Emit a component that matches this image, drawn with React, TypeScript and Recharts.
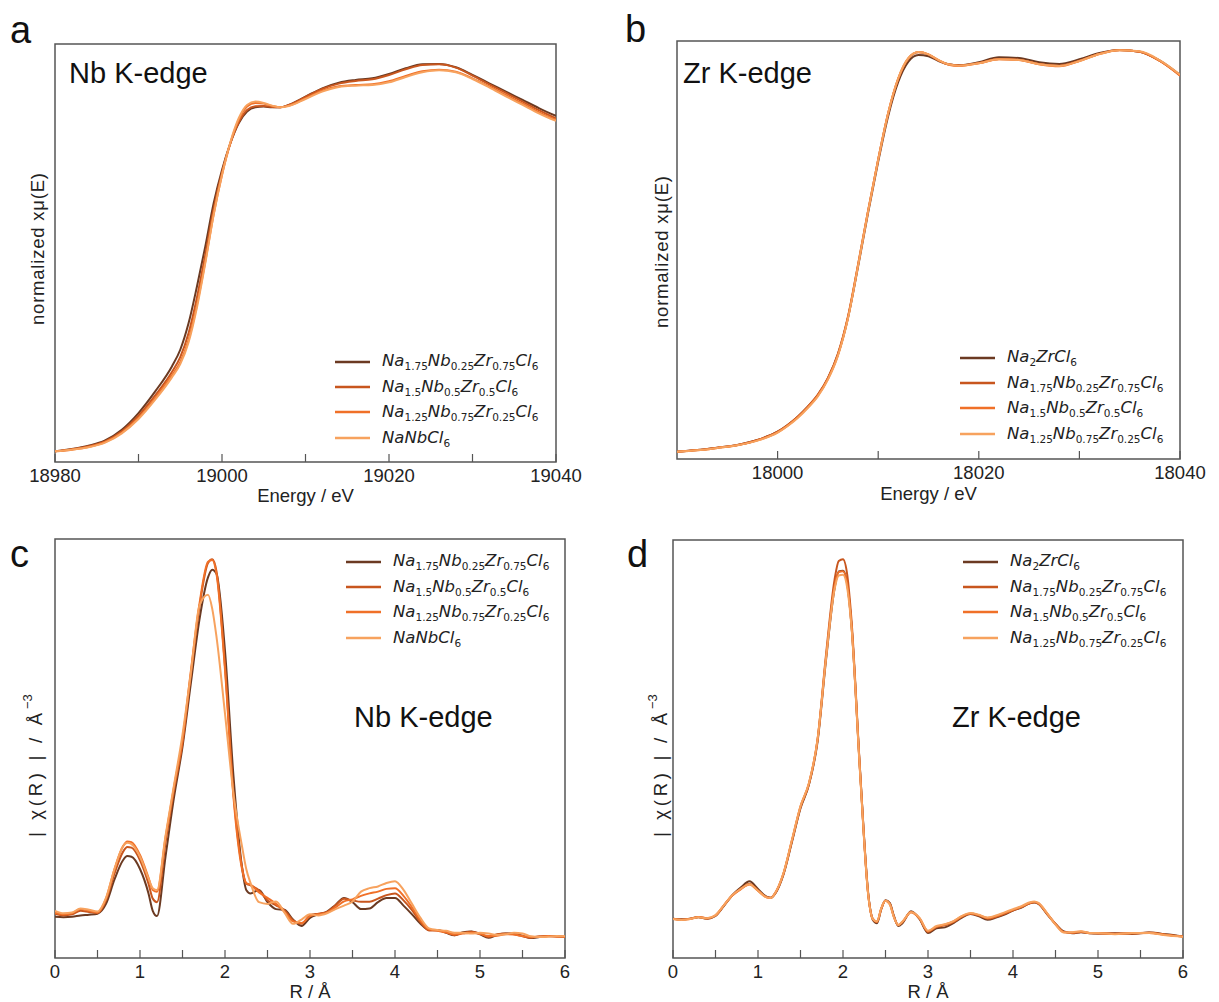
import { LineChart, Line, XAxis, YAxis, ReferenceArea, Legend } from "recharts";

const SERIES_COLORS = ["#6b3a22", "#c8561e", "#f07028", "#f7a25e"];
const TEXT = "#222";
const FRAME = "#555";
const SANS = "'Liberation Sans', Arial, Helvetica, sans-serif";

// ---- panel a: Nb K-edge XANES ----
const nbEnergy = [18980, 18982, 18984, 18986, 18988, 18990, 18992, 18994, 18995, 18996, 18997, 18998, 18999, 19000, 19001, 19002, 19003, 19004, 19005, 19006, 19007, 19008, 19010, 19012, 19014, 19016, 19018, 19020, 19022, 19024, 19026, 19028, 19030, 19032, 19034, 19036, 19038, 19040];
const nbXanesNa175 = [0.000, 0.007, 0.017, 0.033, 0.065, 0.115, 0.180, 0.255, 0.305, 0.385, 0.495, 0.615, 0.745, 0.845, 0.925, 0.985, 1.020, 1.033, 1.035, 1.033, 1.033, 1.040, 1.065, 1.090, 1.107, 1.115, 1.120, 1.133, 1.150, 1.162, 1.163, 1.153, 1.130, 1.105, 1.080, 1.055, 1.030, 1.007];
const nbXanesNa15 = [0.000, 0.006, 0.015, 0.030, 0.060, 0.107, 0.168, 0.238, 0.283, 0.355, 0.462, 0.590, 0.728, 0.838, 0.925, 0.988, 1.025, 1.036, 1.037, 1.034, 1.033, 1.040, 1.064, 1.088, 1.104, 1.112, 1.117, 1.130, 1.147, 1.160, 1.162, 1.152, 1.128, 1.102, 1.076, 1.050, 1.024, 1.000];
const nbXanesNa125 = [0.000, 0.005, 0.013, 0.028, 0.056, 0.100, 0.160, 0.228, 0.268, 0.335, 0.440, 0.570, 0.712, 0.830, 0.925, 0.995, 1.035, 1.046, 1.044, 1.037, 1.033, 1.038, 1.060, 1.083, 1.096, 1.100, 1.102, 1.111, 1.127, 1.141, 1.146, 1.140, 1.120, 1.096, 1.070, 1.044, 1.018, 0.995];
const nbXanesNaNb = [0.000, 0.005, 0.012, 0.026, 0.054, 0.097, 0.155, 0.222, 0.262, 0.328, 0.432, 0.565, 0.710, 0.830, 0.928, 1.000, 1.040, 1.050, 1.046, 1.038, 1.033, 1.037, 1.058, 1.080, 1.094, 1.098, 1.100, 1.108, 1.124, 1.138, 1.144, 1.138, 1.118, 1.093, 1.066, 1.040, 1.014, 0.992];

// ---- panel b: Zr K-edge XANES ----
const zrEnergy = [17990, 17992, 17994, 17996, 17998, 18000, 18001, 18002, 18003, 18004, 18005, 18006, 18007, 18008, 18009, 18010, 18011, 18012, 18013, 18014, 18015, 18016, 18017, 18018, 18020, 18022, 18024, 18026, 18028, 18030, 18032, 18034, 18036, 18038, 18040];
const zrXanesNa2 = [0.000, 0.005, 0.012, 0.020, 0.035, 0.060, 0.080, 0.105, 0.135, 0.170, 0.220, 0.292, 0.402, 0.555, 0.717, 0.870, 1.008, 1.110, 1.170, 1.190, 1.186, 1.172, 1.162, 1.159, 1.168, 1.183, 1.181, 1.168, 1.163, 1.177, 1.196, 1.205, 1.200, 1.173, 1.130];
const zrXanesNa175 = [0.000, 0.005, 0.012, 0.020, 0.035, 0.060, 0.080, 0.105, 0.135, 0.171, 0.221, 0.294, 0.406, 0.562, 0.724, 0.877, 1.016, 1.119, 1.179, 1.198, 1.191, 1.174, 1.162, 1.159, 1.166, 1.178, 1.176, 1.163, 1.158, 1.173, 1.194, 1.205, 1.200, 1.172, 1.129];
const zrXanesNa15 = [0.000, 0.004, 0.011, 0.019, 0.034, 0.058, 0.078, 0.103, 0.133, 0.168, 0.218, 0.290, 0.403, 0.560, 0.723, 0.877, 1.017, 1.120, 1.180, 1.199, 1.192, 1.174, 1.161, 1.157, 1.165, 1.177, 1.175, 1.162, 1.156, 1.172, 1.193, 1.204, 1.200, 1.172, 1.128];
const zrXanesNa125 = [0.000, 0.004, 0.011, 0.019, 0.033, 0.057, 0.077, 0.101, 0.131, 0.166, 0.216, 0.288, 0.400, 0.558, 0.722, 0.876, 1.017, 1.121, 1.181, 1.199, 1.192, 1.175, 1.162, 1.158, 1.165, 1.177, 1.175, 1.162, 1.157, 1.172, 1.193, 1.204, 1.201, 1.174, 1.131];

// ---- panel c: Nb K-edge |chi(R)| ----
const nbR = [0, 0.1, 0.2, 0.3, 0.4, 0.5, 0.6, 0.7, 0.8, 0.85, 0.9, 1.0, 1.1, 1.15, 1.2, 1.3, 1.4, 1.5, 1.6, 1.7, 1.8, 1.85, 1.9, 2.0, 2.1, 2.2, 2.25, 2.3, 2.4, 2.5, 2.6, 2.7, 2.8, 2.9, 3.0, 3.1, 3.2, 3.3, 3.4, 3.5, 3.6, 3.7, 3.8, 3.9, 4.0, 4.1, 4.2, 4.3, 4.4, 4.5, 4.6, 4.7, 4.8, 4.9, 5.0, 5.1, 5.2, 5.3, 5.4, 5.5, 5.6, 5.7, 5.8, 5.9, 6.0];
const nbChiNa175 = [1.18, 1.17, 1.18, 1.22, 1.24, 1.27, 1.55, 2.25, 2.80, 2.92, 2.90, 2.55, 1.85, 1.35, 1.20, 2.90, 4.60, 6.05, 7.90, 9.70, 10.90, 11.12, 11.00, 8.80, 5.20, 2.60, 1.95, 1.85, 1.95, 1.60, 1.40, 1.38, 1.10, 0.92, 1.15, 1.25, 1.33, 1.52, 1.72, 1.60, 1.40, 1.42, 1.60, 1.72, 1.72, 1.50, 1.25, 0.98, 0.80, 0.80, 0.72, 0.65, 0.74, 0.76, 0.68, 0.58, 0.66, 0.70, 0.70, 0.64, 0.57, 0.60, 0.63, 0.62, 0.60];
const nbChiNa15 = [1.27, 1.22, 1.25, 1.35, 1.32, 1.29, 1.65, 2.42, 3.04, 3.18, 3.16, 2.80, 2.13, 1.70, 1.60, 3.30, 4.81, 6.15, 8.15, 10.07, 11.31, 11.42, 11.07, 8.35, 4.71, 2.61, 2.13, 2.08, 1.94, 1.65, 1.51, 1.37, 1.08, 0.98, 1.22, 1.27, 1.32, 1.51, 1.70, 1.65, 1.61, 1.61, 1.70, 1.80, 1.85, 1.65, 1.37, 1.03, 0.79, 0.79, 0.75, 0.65, 0.72, 0.75, 0.70, 0.60, 0.68, 0.70, 0.68, 0.62, 0.58, 0.62, 0.62, 0.62, 0.60];
const nbChiNa125 = [1.30, 1.25, 1.28, 1.40, 1.35, 1.30, 1.70, 2.55, 3.20, 3.34, 3.32, 2.95, 2.30, 1.95, 1.90, 3.45, 4.90, 6.25, 8.25, 10.15, 11.35, 11.40, 11.00, 8.25, 4.60, 2.55, 2.15, 2.10, 1.88, 1.72, 1.55, 1.32, 1.05, 1.00, 1.20, 1.25, 1.30, 1.45, 1.62, 1.68, 1.78, 1.85, 1.90, 1.98, 2.00, 1.78, 1.45, 1.08, 0.82, 0.78, 0.73, 0.68, 0.70, 0.72, 0.69, 0.63, 0.64, 0.68, 0.67, 0.63, 0.60, 0.61, 0.63, 0.61, 0.61];
const nbChiNaNb = [1.35, 1.28, 1.30, 1.42, 1.38, 1.33, 1.72, 2.55, 3.20, 3.30, 3.26, 2.90, 2.28, 2.00, 1.95, 3.50, 4.95, 6.40, 8.20, 10.10, 10.40, 10.00, 9.20, 7.00, 4.70, 3.20, 2.55, 2.15, 1.60, 1.55, 1.62, 1.30, 0.98, 1.10, 1.25, 1.22, 1.28, 1.40, 1.50, 1.62, 1.90, 2.00, 2.05, 2.15, 2.20, 1.95, 1.55, 1.15, 0.85, 0.80, 0.78, 0.72, 0.72, 0.70, 0.72, 0.70, 0.66, 0.68, 0.72, 0.70, 0.62, 0.60, 0.61, 0.63, 0.62];

// ---- panel d: Zr K-edge |chi(R)| ----
const zrR = [0, 0.1, 0.2, 0.3, 0.4, 0.5, 0.6, 0.7, 0.8, 0.9, 1.0, 1.1, 1.15, 1.2, 1.3, 1.4, 1.5, 1.6, 1.7, 1.8, 1.9, 1.95, 2.0, 2.05, 2.1, 2.2, 2.3, 2.35, 2.4, 2.45, 2.5, 2.55, 2.6, 2.65, 2.7, 2.8, 2.9, 3.0, 3.1, 3.2, 3.3, 3.4, 3.5, 3.6, 3.7, 3.8, 3.9, 4.0, 4.1, 4.2, 4.25, 4.3, 4.4, 4.5, 4.6, 4.7, 4.8, 4.9, 5.0, 5.2, 5.4, 5.6, 5.8, 6.0];
const zrChiNa2 = [1.13, 1.11, 1.13, 1.17, 1.13, 1.21, 1.50, 1.81, 2.03, 2.20, 1.98, 1.76, 1.73, 1.84, 2.40, 3.34, 4.30, 4.98, 6.20, 8.55, 10.60, 11.10, 11.12, 10.75, 9.55, 5.40, 1.78, 1.10, 1.00, 1.40, 1.66, 1.58, 1.20, 0.92, 1.00, 1.34, 1.12, 0.72, 0.85, 0.88, 1.00, 1.16, 1.26, 1.20, 1.10, 1.16, 1.25, 1.36, 1.45, 1.57, 1.59, 1.55, 1.26, 0.98, 0.76, 0.71, 0.74, 0.71, 0.70, 0.71, 0.69, 0.73, 0.68, 0.62];
const zrChiNa175 = [1.13, 1.10, 1.13, 1.18, 1.13, 1.22, 1.51, 1.80, 1.99, 2.13, 1.94, 1.75, 1.73, 1.85, 2.42, 3.37, 4.33, 5.00, 6.26, 8.70, 10.85, 11.40, 11.45, 11.00, 9.70, 5.42, 1.75, 1.13, 1.03, 1.41, 1.65, 1.56, 1.18, 0.94, 1.03, 1.32, 1.13, 0.75, 0.89, 0.94, 1.03, 1.18, 1.27, 1.22, 1.13, 1.18, 1.27, 1.37, 1.46, 1.58, 1.60, 1.56, 1.27, 0.98, 0.75, 0.72, 0.75, 0.72, 0.70, 0.70, 0.70, 0.73, 0.67, 0.62];
const zrChiNa15 = [1.12, 1.10, 1.12, 1.18, 1.14, 1.22, 1.52, 1.80, 1.98, 2.11, 1.93, 1.74, 1.72, 1.86, 2.43, 3.38, 4.35, 5.02, 6.25, 8.62, 10.65, 11.08, 11.10, 10.72, 9.55, 5.36, 1.74, 1.12, 1.04, 1.42, 1.64, 1.55, 1.17, 0.95, 1.04, 1.31, 1.14, 0.77, 0.90, 0.96, 1.05, 1.20, 1.28, 1.23, 1.15, 1.20, 1.29, 1.38, 1.47, 1.58, 1.61, 1.57, 1.28, 0.97, 0.74, 0.73, 0.76, 0.71, 0.71, 0.69, 0.71, 0.72, 0.66, 0.62];
const zrChiNa125 = [1.12, 1.09, 1.12, 1.17, 1.14, 1.23, 1.52, 1.81, 1.99, 2.12, 1.93, 1.74, 1.72, 1.86, 2.44, 3.40, 4.36, 5.03, 6.27, 8.60, 10.58, 10.98, 11.00, 10.62, 9.50, 5.34, 1.73, 1.12, 1.05, 1.43, 1.64, 1.54, 1.16, 0.95, 1.05, 1.31, 1.15, 0.78, 0.92, 0.97, 1.06, 1.21, 1.29, 1.24, 1.16, 1.22, 1.31, 1.40, 1.49, 1.60, 1.62, 1.58, 1.29, 0.96, 0.73, 0.74, 0.77, 0.72, 0.72, 0.68, 0.72, 0.72, 0.65, 0.61];

const nbNames = ["Na1.75Nb0.25Zr0.75Cl6", "Na1.5Nb0.5Zr0.5Cl6", "Na1.25Nb0.75Zr0.25Cl6", "NaNbCl6"];
const zrNames = ["Na2ZrCl6", "Na1.75Nb0.25Zr0.75Cl6", "Na1.5Nb0.5Zr0.5Cl6", "Na1.25Nb0.75Zr0.25Cl6"];

const nbEnergyTicks = [18980, 18990, 19000, 19010, 19020, 19030, 19040];
const zrEnergyTicks = [18000, 18010, 18020, 18030, 18040];
const rTicks = [0, 0.5, 1, 1.5, 2, 2.5, 3, 3.5, 4, 4.5, 5, 5.5, 6];

const every20 = (v: number) => (v % 20 === 0 ? String(v) : "");
const integersOnly = (v: number) => (Number.isInteger(v) ? String(v) : "");

function Formula({ text }: { text: string }) {
  const parts = text.match(/[A-Z][a-z]*|[\d.]+/g) || [];
  return (
    <span style={{ fontFamily: "'DejaVu Sans', sans-serif", fontSize: 16.5, lineHeight: 1, color: TEXT, whiteSpace: "nowrap" }}>
      {parts.map((p, i) =>
        /^[\d.]+$/.test(p) ? (
          <span key={i} style={{ fontSize: 10.5, position: "relative", top: 4 }}>{p}</span>
        ) : (
          <span key={i} style={{ fontStyle: "italic" }}>{p}</span>
        )
      )}
    </span>
  );
}

function LegendBox({ names }: { names: string[] }) {
  return (
    <div>
      {names.map((n, i) => (
        <div key={n} style={{ display: "flex", alignItems: "center", height: 25.4 }}>
          <svg width={35} height={6} style={{ marginRight: 12, flex: "none" }}>
            <line x1={0} y1={3} x2={35} y2={3} stroke={SERIES_COLORS[i]} strokeWidth={2.5} />
          </svg>
          <Formula text={n} />
        </div>
      ))}
    </div>
  );
}

function YTitle({ kind, x, y }: { kind: "mu" | "chi"; x: number; y: number }) {
  if (kind === "mu") {
    return (
      <text x={x} y={y} transform={`rotate(-90 ${x} ${y})`} textAnchor="middle" dominantBaseline="central" fontSize={18.5} fill={TEXT} textLength={152} lengthAdjust="spacing">
        normalized xμ(E)
      </text>
    );
  }
  return (
    <g transform={`translate(${x} ${y}) rotate(-90)`} fill={TEXT}>
      <text x={0} y={0} dominantBaseline="central" fontSize={18.5} textLength={124} lengthAdjust="spacing">
        | χ(R) | / Å
      </text>
      <text x={128} y={-8} dominantBaseline="central" fontSize={13}>−3</text>
    </g>
  );
}

type PanelProps = {
  left: number;
  top: number;
  width: number;
  height: number;
  margin: { top: number; right: number; bottom: number; left: number };
  yAxisWidth: number;
  xs: number[];
  series: number[][];
  names: string[];
  xDomain: [number, number];
  yDomain: [number, number];
  ticks: number[];
  tickFormat: (v: number) => string;
  xTitle: string;
  xTitleOffset: number;
  yTitle: { kind: "mu" | "chi"; x: number; y: number };
  legendPos: { left: number; top: number };
};

function Panel(p: PanelProps) {
  const rows = p.xs.map((x, i) => {
    const r: Record<string, number> = { x };
    p.series.forEach((s, j) => {
      r[`s${j}`] = s[i];
    });
    return r;
  });
  return (
    <div style={{ position: "absolute", left: p.left, top: p.top, fontFamily: SANS }}>
      <LineChart width={p.width} height={p.height} data={rows} margin={p.margin}>
        <XAxis
          dataKey="x"
          type="number"
          domain={p.xDomain}
          ticks={p.ticks}
          interval={0}
          allowDataOverflow
          tickFormatter={p.tickFormat}
          axisLine={false}
          tickSize={-8}
          tickMargin={15}
          tickLine={{ stroke: FRAME, strokeWidth: 1.2 }}
          tick={{ fill: TEXT, fontSize: 18.5 }}
          height={44}
          label={{ value: p.xTitle, position: "insideBottom", offset: p.xTitleOffset, fill: TEXT, fontSize: 18.5 }}
        />
        <YAxis
          type="number"
          domain={p.yDomain}
          allowDataOverflow
          width={p.yAxisWidth}
          tick={false}
          tickLine={false}
          axisLine={false}
          label={() => <YTitle kind={p.yTitle.kind} x={p.yTitle.x} y={p.yTitle.y} />}
        />
        <ReferenceArea
          x1={p.xDomain[0]}
          x2={p.xDomain[1]}
          y1={p.yDomain[0]}
          y2={p.yDomain[1]}
          fill="none"
          stroke={FRAME}
          strokeWidth={1.5}
          ifOverflow="visible"
        />
        {p.series.map((_, j) => (
          <Line
            key={j}
            dataKey={`s${j}`}
            type="monotone"
            stroke={SERIES_COLORS[j]}
            strokeWidth={2}
            dot={false}
            isAnimationActive={false}
          />
        ))}
        <Legend
          layout="vertical"
          align="center"
          verticalAlign="middle"
          wrapperStyle={{ left: p.legendPos.left, top: p.legendPos.top, width: 250, height: 102 }}
          content={() => <LegendBox names={p.names} />}
        />
      </LineChart>
    </div>
  );
}

export default function App() {
  return (
    <div style={{ position: "absolute", left: 0, top: 0, width: 1219, height: 1002, overflow: "hidden", background: "#fff", fontFamily: SANS }}>
      <Panel
        left={0}
        top={0}
        width={600}
        height={510}
        margin={{ top: 44, right: 44, bottom: 4, left: 0 }}
        yAxisWidth={55}
        xs={nbEnergy}
        series={[nbXanesNa175, nbXanesNa15, nbXanesNa125, nbXanesNaNb]}
        names={nbNames}
        xDomain={[18980, 19040]}
        yDomain={[-0.032, 1.223]}
        ticks={nbEnergyTicks}
        tickFormat={every20}
        xTitle="Energy / eV"
        xTitleOffset={4}
        yTitle={{ kind: "mu", x: 37, y: 249 }}
        legendPos={{ left: 335, top: 349 }}
      />
      <Panel
        left={620}
        top={0}
        width={599}
        height={510}
        margin={{ top: 41, right: 39, bottom: 7, left: 0 }}
        yAxisWidth={57}
        xs={zrEnergy}
        series={[zrXanesNa2, zrXanesNa175, zrXanesNa15, zrXanesNa125]}
        names={zrNames}
        xDomain={[17990, 18040]}
        yDomain={[-0.022, 1.232]}
        ticks={zrEnergyTicks}
        tickFormat={every20}
        xTitle="Energy / eV"
        xTitleOffset={3}
        yTitle={{ kind: "mu", x: 41, y: 252 }}
        legendPos={{ left: 340, top: 345 }}
      />
      <Panel
        left={0}
        top={510}
        width={600}
        height={492}
        margin={{ top: 29, right: 35, bottom: 0, left: 0 }}
        yAxisWidth={55}
        xs={nbR}
        series={[nbChiNa175, nbChiNa15, nbChiNa125, nbChiNaNb]}
        names={nbNames}
        xDomain={[0, 6]}
        yDomain={[0, 12]}
        ticks={rTicks}
        tickFormat={integersOnly}
        xTitle="R / Å"
        xTitleOffset={4}
        yTitle={{ kind: "chi", x: 35, y: 327 }}
        legendPos={{ left: 346, top: 39 }}
      />
      <Panel
        left={620}
        top={510}
        width={599}
        height={492}
        margin={{ top: 30, right: 36, bottom: 0, left: 0 }}
        yAxisWidth={53}
        xs={zrR}
        series={[zrChiNa2, zrChiNa175, zrChiNa15, zrChiNa125]}
        names={zrNames}
        xDomain={[0, 6]}
        yDomain={[0, 12]}
        ticks={rTicks}
        tickFormat={integersOnly}
        xTitle="R / Å"
        xTitleOffset={4}
        yTitle={{ kind: "chi", x: 40, y: 327 }}
        legendPos={{ left: 343, top: 39 }}
      />
      <svg width={1219} height={1002} style={{ position: "absolute", left: 0, top: 0, pointerEvents: "none" }}>
        <g fill="#111" fontFamily={SANS}>
          <text x={10} y={43} fontSize={38}>a</text>
          <text x={625} y={42} fontSize={38}>b</text>
          <text x={10} y={567} fontSize={38}>c</text>
          <text x={627} y={567} fontSize={38}>d</text>
          <text x={69} y={83} fontSize={29}>Nb K-edge</text>
          <text x={683} y={83} fontSize={29}>Zr K-edge</text>
          <text x={354} y={727} fontSize={29}>Nb K-edge</text>
          <text x={952} y={727} fontSize={29}>Zr K-edge</text>
        </g>
      </svg>
    </div>
  );
}
